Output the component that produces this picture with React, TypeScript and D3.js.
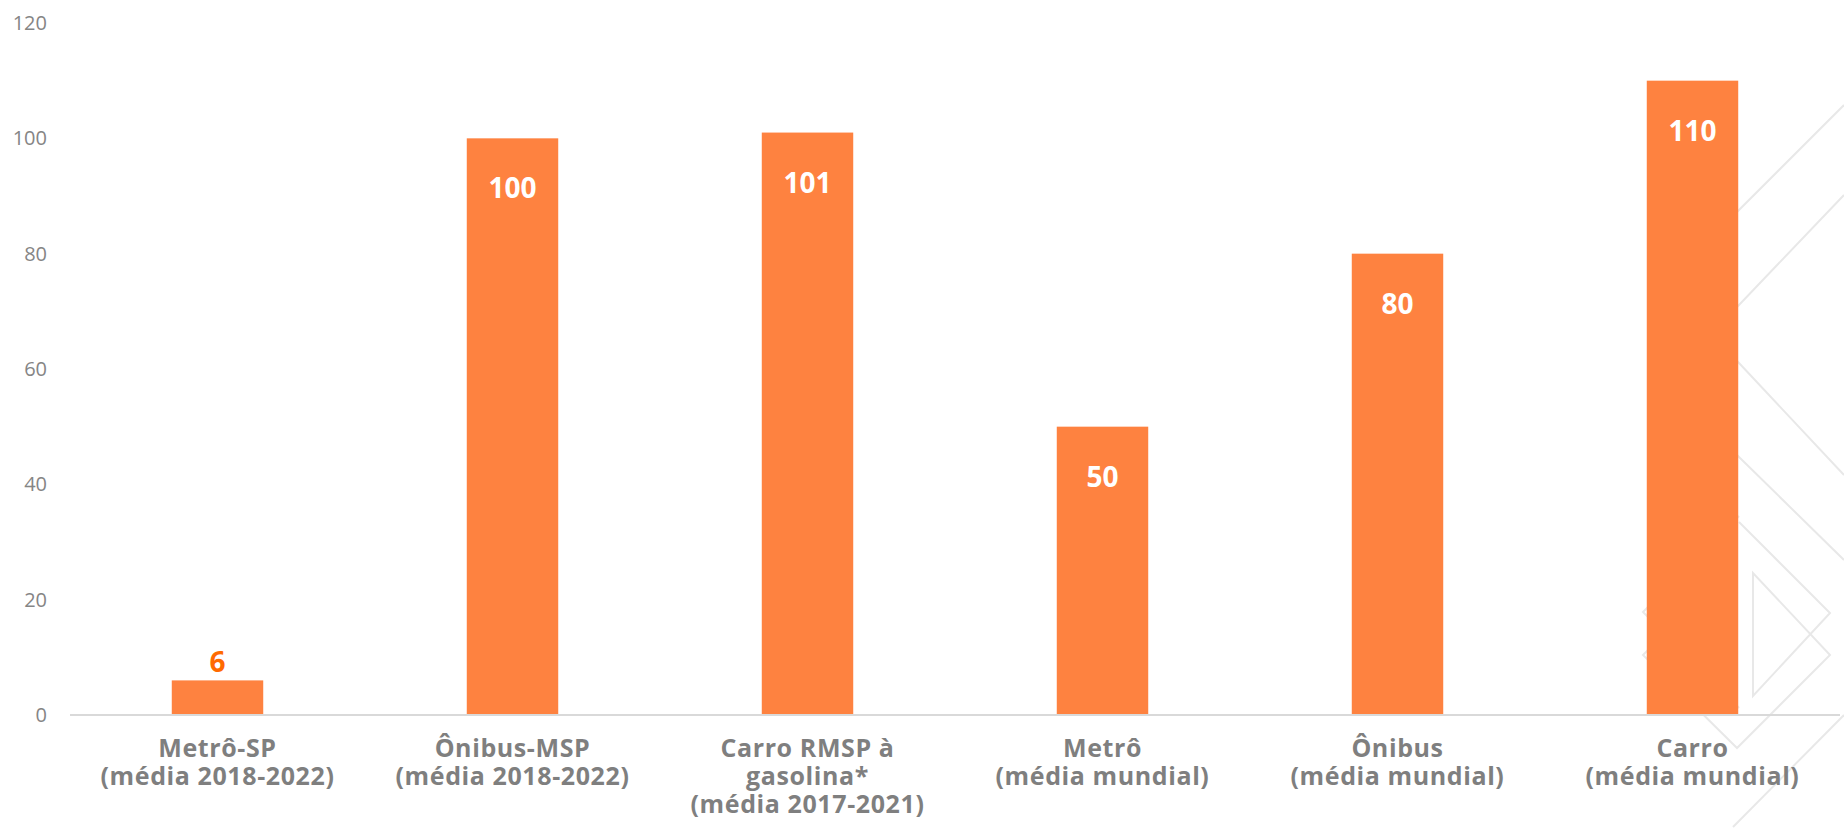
import React, { useEffect, useRef } from "react";
import * as d3 from "d3";

// chart values
const categories = [
  "Metrô-SP",
  "Ônibus-MSP",
  "Carro RMSP à gasolina*",
  "Metrô",
  "Ônibus",
  "Carro",
];
const categoryLines = [
  ["Metrô-SP", "(média 2018-2022)"],
  ["Ônibus-MSP", "(média 2018-2022)"],
  ["Carro RMSP à", "gasolina*", "(média 2017-2021)"],
  ["Metrô", "(média mundial)"],
  ["Ônibus", "(média mundial)"],
  ["Carro", "(média mundial)"],
];
const values = [6, 100, 101, 50, 80, 110];
const yTicks = [0, 20, 40, 60, 80, 100, 120];

// faint background chevrons (decoration only)
const decoLines: [number, number][][] = [
  [[1690, 259], [1739, 210], [1844, 105]],
  [[1690, 355], [1739, 305], [1844, 195]],
  [[1690, 313], [1739, 363], [1844, 475]],
  [[1690, 408], [1739, 457], [1844, 560]],
  [[1739, 516], [1643, 612], [1739, 708]],
  [
    [1700, 598],
    [1643, 655],
    [1737, 748],
    [1830, 655],
    [1753, 573],
    [1753, 696],
    [1830, 613],
    [1739, 522],
  ],
  [[1844, 715], [1733, 827]],
];

const W = 1844;
const H = 829;
const margin = { top: 23, right: 4, bottom: 114, left: 70 };
const barColor = "#FE8240";
const font = "'Open Sans', 'Noto Sans', sans-serif";

function BarChart() {
  const svgRef: any = useRef(null);

  useEffect(() => {
    draw();
  }, []);

  const draw = () => {
    const svg = d3.select(svgRef.current);
    svg.selectAll("*").remove();

    const x = d3
      .scaleBand()
      .domain(categories)
      .range([margin.left, W - margin.right])
      .paddingInner(0.69)
      .paddingOuter(0.345);

    const y = d3
      .scaleLinear()
      .domain([0, 120])
      .range([H - margin.bottom, margin.top]);

    const cx = (i: number) => (x(categories[i]) as number) + x.bandwidth() / 2;

    // decoration behind everything
    const line = d3.line();
    svg
      .append("g")
      .selectAll("path")
      .data(decoLines)
      .join("path")
      .attr("d", (d: any) => line(d))
      .attr("fill", "none")
      .attr("stroke", "#e8e8e8")
      .attr("stroke-width", 2);

    // y labels
    svg
      .append("g")
      .selectAll("text")
      .data(yTicks)
      .join("text")
      .attr("x", 47)
      .attr("y", (d) => y(d))
      .attr("dy", "0.35em")
      .attr("text-anchor", "end")
      .attr("fill", "#858585")
      .attr("font-family", font)
      .attr("font-size", 20)
      .text((d) => d);

    // bars
    svg
      .append("g")
      .selectAll("rect")
      .data(values)
      .join("rect")
      .attr("x", (d, i) => x(categories[i]) as number)
      .attr("y", (d) => y(d))
      .attr("width", x.bandwidth())
      .attr("height", (d) => y(0) - y(d))
      .attr("fill", barColor);

    // baseline
    svg
      .append("line")
      .attr("x1", margin.left)
      .attr("x2", W - margin.right)
      .attr("y1", y(0))
      .attr("y2", y(0))
      .attr("stroke", "#d9d9d9")
      .attr("stroke-width", 2);

    // value labels: inside the bar, or above when the bar is too short
    svg
      .append("g")
      .selectAll("text")
      .data(values)
      .join("text")
      .attr("x", (d, i) => cx(i))
      .attr("y", (d) => (d < 20 ? y(d) - 8 : y(d) + 60))
      .attr("text-anchor", "middle")
      .attr("fill", (d) => (d < 20 ? "#FF6A00" : "#ffffff"))
      .attr("font-family", font)
      .attr("font-weight", 700)
      .attr("font-size", 28)
      .text((d) => d);

    // category labels, one text per line
    const rows = categoryLines.flatMap((lines, i) =>
      lines.map((t, j) => ({ t, i, j }))
    );
    svg
      .append("g")
      .selectAll("text")
      .data(rows)
      .join("text")
      .attr("x", (d) => cx(d.i))
      .attr("y", (d) => 757 + d.j * 28)
      .attr("text-anchor", "middle")
      .attr("fill", "#7f7f7f")
      .attr("font-family", font)
      .attr("font-weight", 700)
      .attr("font-size", 25)
      .attr("letter-spacing", 0.6)
      .text((d) => d.t);
  };

  return (
    <svg
      ref={svgRef}
      width={W}
      height={H}
      viewBox={`0 0 ${W} ${H}`}
      style={{ position: "absolute", left: 0, top: 0, background: "#fff" }}
    />
  );
}

export default function App() {
  return <BarChart />;
}
